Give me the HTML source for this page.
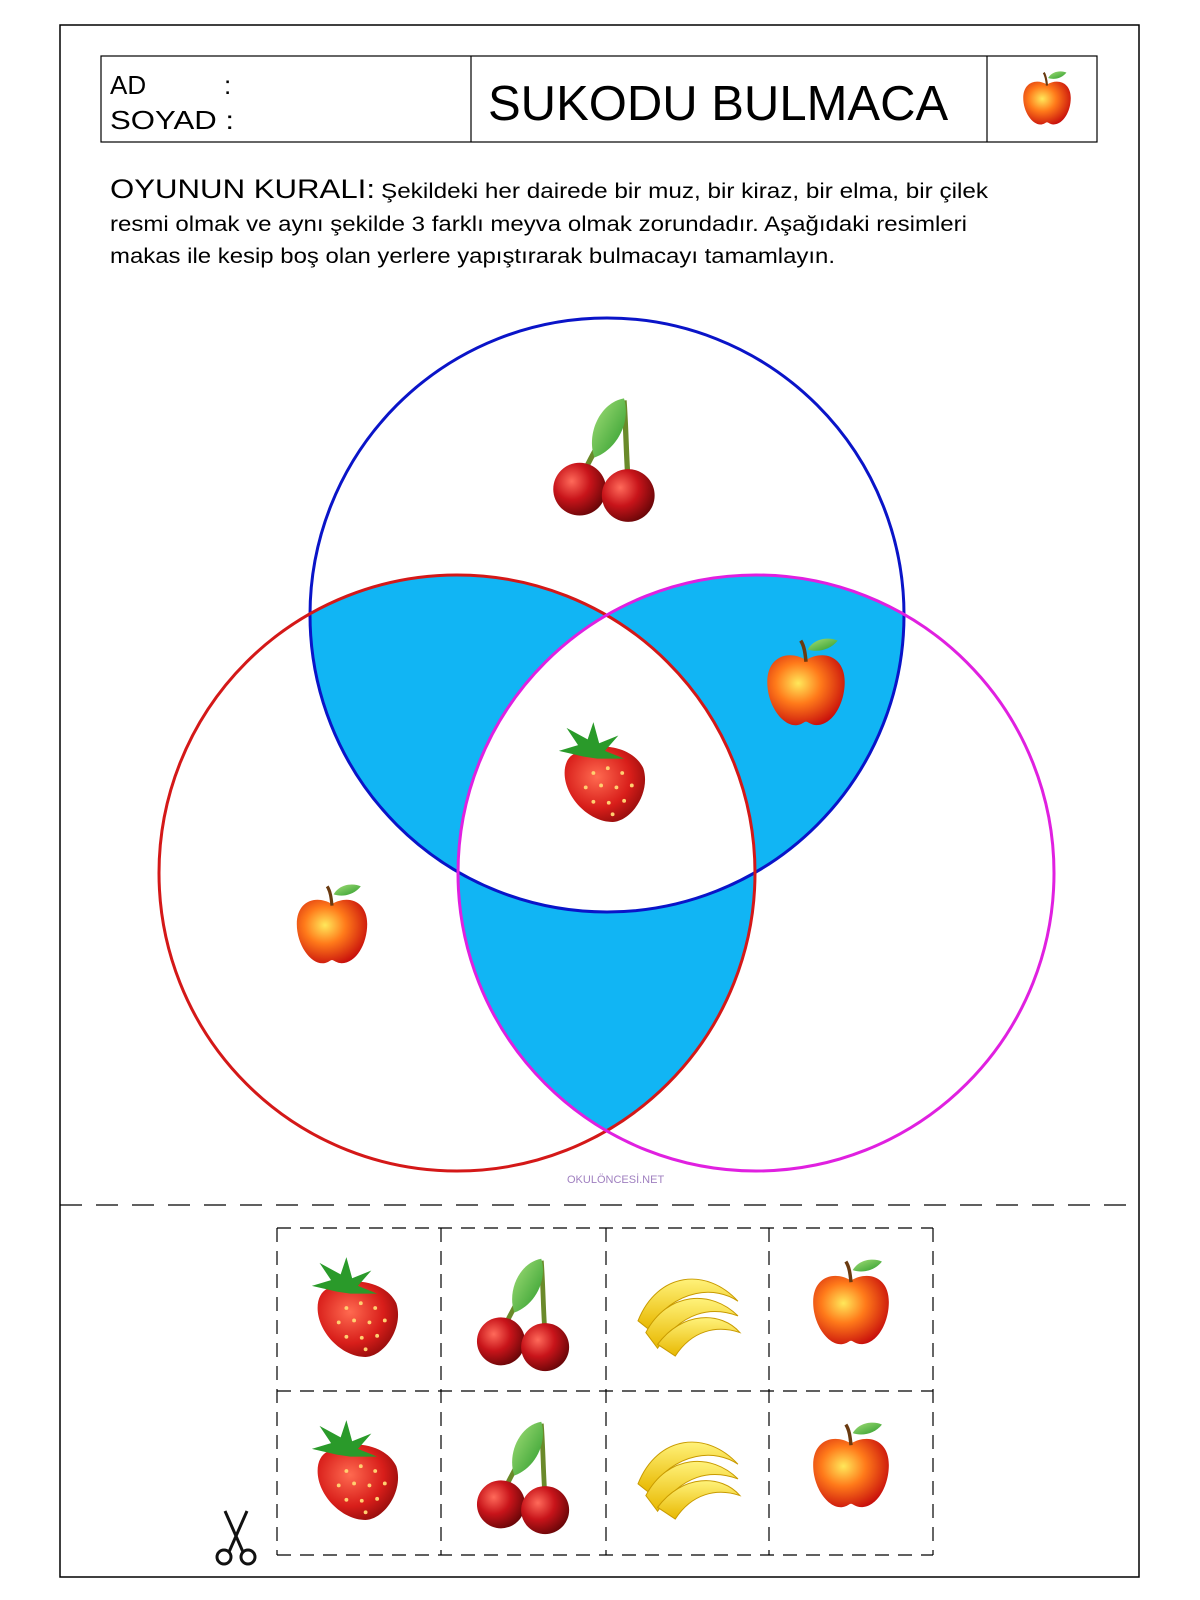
<!DOCTYPE html>
<html><head><meta charset="utf-8"><style>
html,body{margin:0;padding:0;background:#fff;width:1200px;height:1600px;overflow:hidden}
svg{display:block}
</style></head><body>
<svg width="1200" height="1600" viewBox="0 0 1200 1600" xmlns="http://www.w3.org/2000/svg">
<defs>
<radialGradient id="ag" cx="40%" cy="40%" r="65%"><stop offset="0" stop-color="#ffe85a"/><stop offset="0.45" stop-color="#ff7a1a"/><stop offset="1" stop-color="#c8100c"/></radialGradient>
<radialGradient id="cg" cx="35%" cy="35%" r="70%"><stop offset="0" stop-color="#ff6a5a"/><stop offset="0.5" stop-color="#c8141a"/><stop offset="1" stop-color="#6a0608"/></radialGradient>
<radialGradient id="sg" cx="40%" cy="40%" r="70%"><stop offset="0" stop-color="#ff6a50"/><stop offset="0.6" stop-color="#d81e1a"/><stop offset="1" stop-color="#8a0a0a"/></radialGradient>
<linearGradient id="lg" x1="0" y1="0" x2="1" y2="1"><stop offset="0" stop-color="#a6e07a"/><stop offset="1" stop-color="#2a9a2a"/></linearGradient>
<linearGradient id="bg" x1="0" y1="0" x2="0" y2="1"><stop offset="0" stop-color="#fff27a"/><stop offset="1" stop-color="#e8b800"/></linearGradient>
<symbol id="apple" viewBox="0 0 100 110">
<path d="M50 30 C30 18 6 26 6 55 C6 82 24 106 40 104 C46 103 48 100 50 100 C52 100 56 104 62 104 C80 104 94 80 94 55 C94 26 70 18 50 30Z" fill="url(#ag)"/>
<path d="M50 32 C49 22 48 14 44 8" stroke="#6a3a10" stroke-width="4" fill="none"/>
<path d="M52 18 C60 4 78 4 86 8 C78 18 64 22 52 18Z" fill="url(#lg)"/>
</symbol>
<symbol id="cherry" viewBox="0 0 100 125">
<path d="M28 80 C40 55 52 35 68 8" stroke="#6a8a2a" stroke-width="5" fill="none"/>
<path d="M72 86 C70 60 70 35 68 8" stroke="#6a8a2a" stroke-width="5" fill="none"/>
<path d="M68 6 C45 10 32 40 40 62 C60 55 75 30 68 6Z" fill="url(#lg)"/>
<circle cx="26" cy="92" r="25" fill="url(#cg)"/>
<circle cx="72" cy="98" r="25" fill="url(#cg)"/>
</symbol>
<symbol id="straw" viewBox="0 0 100 110">
<path d="M20 35 C40 22 80 25 92 50 C100 75 80 105 60 106 C35 106 10 80 10 55 C10 45 14 38 20 35Z" fill="url(#sg)"/>
<path d="M30 38 L4 32 L24 26 L12 8 L34 20 L40 2 L46 24 L66 16 L52 32 L72 40 L44 40Z" fill="#2a9a2a"/>
<g fill="#ffd070"><circle cx="40" cy="55" r="2"/><circle cx="55" cy="50" r="2"/><circle cx="70" cy="55" r="2"/><circle cx="32" cy="70" r="2"/><circle cx="48" cy="68" r="2"/><circle cx="64" cy="70" r="2"/><circle cx="80" cy="68" r="2"/><circle cx="40" cy="85" r="2"/><circle cx="56" cy="86" r="2"/><circle cx="72" cy="84" r="2"/><circle cx="60" cy="98" r="2"/></g>
</symbol>
<symbol id="banana" viewBox="0 0 120 100">
<path d="M10 60 C30 10 80 5 112 40 C90 25 50 25 20 68Z" fill="url(#bg)" stroke="#c89a00"/>
<path d="M18 72 C40 30 85 28 112 55 C85 45 55 50 30 88Z" fill="url(#bg)" stroke="#c89a00"/>
<path d="M30 84 C55 50 95 50 114 72 C90 64 65 70 48 96Z" fill="url(#bg)" stroke="#c89a00"/>
</symbol>
<clipPath id="cB"><circle cx="607" cy="615" r="297"/></clipPath>
<clipPath id="cR"><circle cx="457" cy="873" r="298"/></clipPath>
<clipPath id="cM"><circle cx="756" cy="873" r="298"/></clipPath>
</defs>
<rect x="60" y="25" width="1079" height="1552" fill="none" stroke="#000" stroke-width="1.5"/>
<rect x="101" y="56" width="996" height="86" fill="none" stroke="#000" stroke-width="1.2"/>
<line x1="471" y1="56" x2="471" y2="142" stroke="#000" stroke-width="1.2"/>
<line x1="987" y1="56" x2="987" y2="142" stroke="#000" stroke-width="1.2"/>
<g font-family="Liberation Sans, sans-serif" fill="#000">
<text x="110" y="94" font-size="26">AD</text><text x="224" y="94" font-size="26">:</text>
<text x="110" y="129" font-size="26" textLength="124" lengthAdjust="spacingAndGlyphs">SOYAD :</text>
<text x="488" y="120" font-size="49">SUKODU BULMACA</text>
<text x="110" y="198" font-size="27" textLength="265" lengthAdjust="spacingAndGlyphs">OYUNUN KURALI:</text>
<text x="381" y="198" font-size="21" textLength="607" lengthAdjust="spacingAndGlyphs">Şekildeki her dairede  bir muz, bir kiraz, bir elma, bir çilek</text>
<text x="110" y="231" font-size="21" textLength="857" lengthAdjust="spacingAndGlyphs">resmi olmak ve aynı şekilde 3 farklı meyva olmak zorundadır. Aşağıdaki resimleri</text>
<text x="110" y="263" font-size="21" textLength="725" lengthAdjust="spacingAndGlyphs">makas ile kesip boş olan yerlere yapıştırarak bulmacayı tamamlayın.</text>
<text x="567" y="1183" font-size="11" fill="#a080c0">OKULÖNCESİ.NET</text>
</g>
<use href="#apple" x="1020" y="66" width="54" height="64"/>
<g fill="#11b5f4">
<g clip-path="url(#cB)"><circle cx="457" cy="873" r="298"/><circle cx="756" cy="873" r="298"/></g>
<g clip-path="url(#cR)"><circle cx="756" cy="873" r="298"/></g>
</g>
<g clip-path="url(#cB)"><g clip-path="url(#cR)"><circle cx="756" cy="873" r="298" fill="#fff"/></g></g>
<circle cx="607" cy="615" r="297" fill="none" stroke="#0a14c8" stroke-width="3"/>
<circle cx="457" cy="873" r="298" fill="none" stroke="#d41818" stroke-width="3"/>
<circle cx="756" cy="873" r="298" fill="none" stroke="#e020e0" stroke-width="3"/>
<use href="#cherry" x="550" y="392" width="110" height="132"/>
<use href="#apple" x="762" y="632" width="88" height="100"/>
<use href="#straw" x="555" y="720" width="96" height="106"/>
<use href="#apple" x="292" y="878" width="80" height="92"/>
<line x1="60" y1="1205" x2="1139" y2="1205" stroke="#000" stroke-width="1.2" stroke-dasharray="22,14"/>
<g stroke="#000" stroke-width="1.2" stroke-dasharray="14,9" fill="none">
<line x1="277" y1="1228" x2="933" y2="1228"/><line x1="277" y1="1391" x2="933" y2="1391"/><line x1="277" y1="1555" x2="933" y2="1555"/>
<line x1="277" y1="1228" x2="277" y2="1555"/><line x1="441" y1="1228" x2="441" y2="1555"/><line x1="606" y1="1228" x2="606" y2="1555"/><line x1="769" y1="1228" x2="769" y2="1555"/><line x1="933" y1="1228" x2="933" y2="1555"/>
</g>
<use href="#straw" x="308" y="1255" width="96" height="106"/>
<use href="#cherry" x="474" y="1253" width="100" height="120"/>
<use href="#banana" x="628" y="1262" width="118" height="98"/>
<use href="#apple" x="808" y="1252" width="86" height="100"/>
<use href="#straw" x="308" y="1418" width="96" height="106"/>
<use href="#cherry" x="474" y="1416" width="100" height="120"/>
<use href="#banana" x="628" y="1425" width="118" height="98"/>
<use href="#apple" x="808" y="1415" width="86" height="100"/>
<g stroke="#111" fill="none" stroke-width="3">
<circle cx="224" cy="1557" r="7"/><circle cx="248" cy="1557" r="7"/>
<path d="M229 1552 L247 1511 M243 1552 L225 1511"/>
</g>
</svg>
</body></html>
